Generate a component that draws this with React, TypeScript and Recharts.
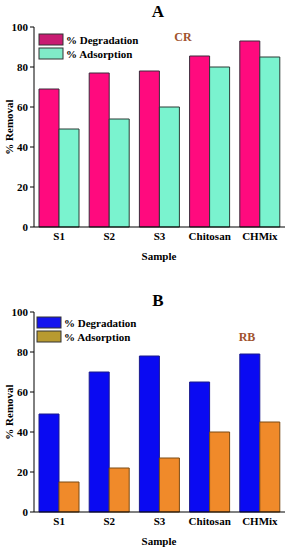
import React from "react";
import { Bar, BarChart, XAxis, YAxis } from "recharts";

const categories = ["S1", "S2", "S3", "Chitosan", "CHMix"];
const degradationA = [69, 77, 78, 85.5, 93];
const adsorptionA = [49, 54, 60, 80, 85];
const degradationB = [49, 70, 78, 65, 79];
const adsorptionB = [15, 22, 27, 40, 45];
const yTicks = [0, 20, 40, 60, 80, 100];
const yMinorTicks = [10, 30, 50, 70, 90];

const serif = "'Liberation Serif', 'Times New Roman', serif";

type PanelProps = {
  title: string;
  tag: string;
  tagX: number;
  tagY: number;
  deg: number[];
  ads: number[];
  degColor: string;
  adsColor: string;
  degStroke: string;
  adsStroke: string;
  degSwatch: string;
  adsSwatch: string;
  height: number;
  bottom: number;
  titleY: number;
  legendX: number;
  legendY: number;
};

function Panel(p: PanelProps) {
  const data = categories.map((name, i) => ({ name, deg: p.deg[i], ads: p.ads[i] }));
  const tickStyle = { fontFamily: serif, fontSize: 11, fontWeight: "bold", fill: "#000" };
  return (
    <BarChart
      width={290}
      height={p.height}
      data={data}
      margin={{ top: 27, right: 5, left: 0, bottom: p.bottom }}
      barCategoryGap={5}
      barGap={0}
    >
      <XAxis
        dataKey="name"
        tickLine={false}
        tickSize={0}
        tickMargin={5}
        height={30}
        stroke="#000"
        tick={tickStyle}
      />
      <XAxis xAxisId="top" orientation="top" dataKey="name" tick={false} tickLine={false} height={0} stroke="#000" />
      <YAxis
        yAxisId="minor"
        domain={[0, 100]}
        ticks={yMinorTicks}
        tickFormatter={() => ""}
        tickSize={3}
        axisLine={false}
        width={0}
        stroke="#000"
      />
      <YAxis
        domain={[0, 100]}
        ticks={yTicks}
        tickSize={4}
        tickMargin={2}
        width={34}
        stroke="#000"
        tick={tickStyle}
      />
      <YAxis yAxisId="right" orientation="right" domain={[0, 100]} tick={false} tickLine={false} width={0} stroke="#000" />
      <Bar dataKey="deg" fill={p.degColor} stroke={p.degStroke} strokeWidth={1} isAnimationActive={false} />
      <Bar dataKey="ads" fill={p.adsColor} stroke={p.adsStroke} strokeWidth={1} isAnimationActive={false} />

      <text x={158} y={p.titleY} textAnchor="middle" dominantBaseline="central" fontFamily={serif} fontSize={17} fontWeight="bold">
        {p.title}
      </text>
      <text x={p.tagX} y={p.tagY} textAnchor="middle" dominantBaseline="central" fontFamily={serif} fontSize={12} fontWeight="bold" fill="#A0522D">
        {p.tag}
      </text>
      <rect x={p.legendX} y={p.legendY} width={24} height={11} fill={p.degSwatch} stroke="#333" strokeWidth={1} />
      <rect x={p.legendX} y={p.legendY + 14} width={24} height={11} fill={p.adsSwatch} stroke="#333" strokeWidth={1} />
      <text x={p.legendX + 27} y={p.legendY + 6} dominantBaseline="central" fontFamily={serif} fontSize={11} fontWeight="bold">
        % Degradation
      </text>
      <text x={p.legendX + 27} y={p.legendY + 20} dominantBaseline="central" fontFamily={serif} fontSize={11} fontWeight="bold">
        % Adsorption
      </text>
      <text x={9} y={127} transform="rotate(-90 9 127)" textAnchor="middle" dominantBaseline="central" fontFamily={serif} fontSize={11} fontWeight="bold">
        % Removal
      </text>
      <text x={159} y={256} textAnchor="middle" dominantBaseline="central" fontFamily={serif} fontSize={11} fontWeight="bold">
        Sample
      </text>
    </BarChart>
  );
}

export default function App() {
  return (
    <div style={{ position: "absolute", left: 0, top: 0, width: 290, height: 550, background: "#fff" }}>
      <Panel
        title="A"
        tag="CR"
        tagX={183}
        tagY={37}
        deg={degradationA}
        ads={adsorptionA}
        degColor="#FF0A7E"
        adsColor="#7AF3CF"
        degStroke="#3a2a3a"
        adsStroke="#2a3a35"
        degSwatch="#C81C72"
        adsSwatch="#80EBC8"
        height={285}
        bottom={28}
        titleY={11}
        legendX={39}
        legendY={34}
      />
      <Panel
        title="B"
        tag="RB"
        tagX={247}
        tagY={52}
        deg={degradationB}
        ads={adsorptionB}
        degColor="#0A0AF2"
        adsColor="#F08A2A"
        degStroke="#1a1a8a"
        adsStroke="#7a4a14"
        degSwatch="#1414EE"
        adsSwatch="#B89A30"
        height={265}
        bottom={8}
        titleY={15}
        legendX={37}
        legendY={32}
      />
    </div>
  );
}
